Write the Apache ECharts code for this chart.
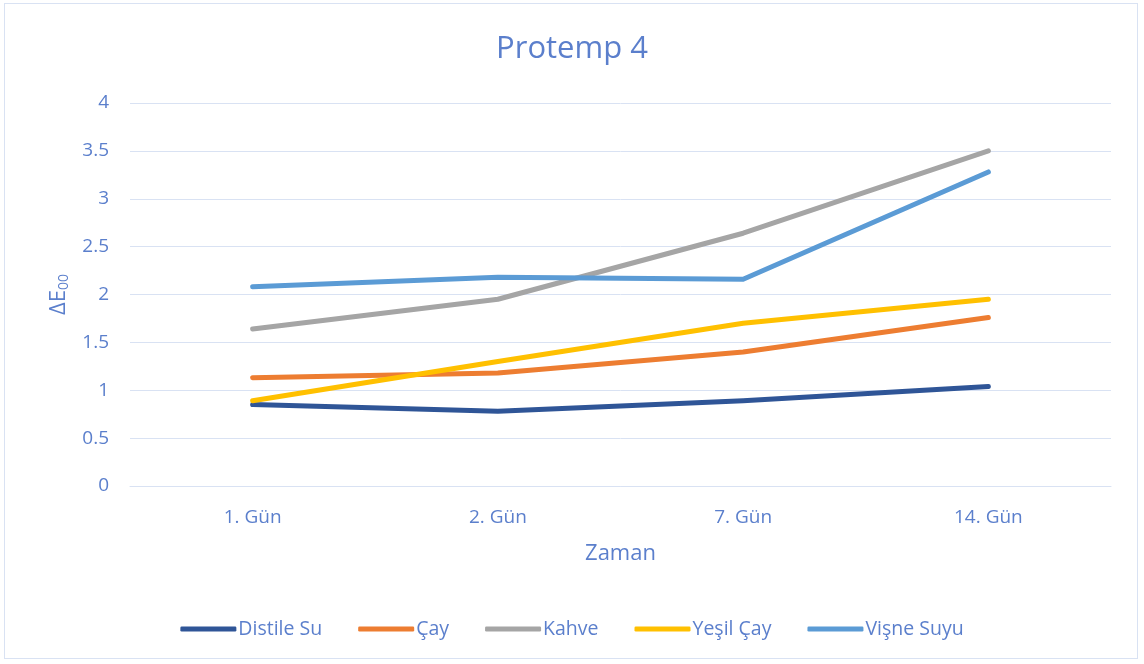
<!DOCTYPE html>
<html>
<head>
<meta charset="utf-8">
<script src="https://cdn.jsdelivr.net/npm/echarts@6/dist/echarts.min.js"></script>
<style>
html,body{margin:0;padding:0;background:#fff;}
#frame{position:absolute;left:4px;top:3px;width:1134px;height:656px;border:1px solid #D9E2F3;box-sizing:border-box;}
#chart{position:absolute;left:0;top:0;width:1144px;height:664px;}
</style>
</head>
<body>
<div id="frame"></div>
<div id="chart"></div>
<script>
const categories = ['1. Gün', '2. Gün', '7. Gün', '14. Gün'];
const distileSu = [0.85, 0.78, 0.89, 1.04];
const cay = [1.13, 1.18, 1.40, 1.76];
const kahve = [1.64, 1.95, 2.64, 3.50];
const yesilCay = [0.89, 1.30, 1.70, 1.95];
const visneSuyu = [2.08, 2.18, 2.16, 3.28];
const seriesNames = ['Distile Su', 'Çay', 'Kahve', 'Yeşil Çay', 'Vişne Suyu'];
const colors = ['#2F5597', '#ED7D31', '#A5A5A5', '#FFC000', '#5B9BD5'];

const textColor = '#5B7FCC';
const font = 'Open Sans';
const dataSets = [distileSu, cay, kahve, yesilCay, visneSuyu];

const chart = echarts.init(document.getElementById('chart'));
chart.setOption({
  animation: false,
  textStyle: {fontFamily: font},
  title: {
    text: 'Protemp 4', left: 'center', top: 29,
    textStyle: {color: textColor, fontSize: 31, fontWeight: 'normal', fontFamily: font}
  },
  legend: {
    bottom: 20, left: 'center',
    data: seriesNames,
    icon: 'roundRect',
    itemWidth: 56, itemHeight: 5, itemGap: 36,
    textStyle: {color: textColor, fontSize: 19.5, fontFamily: font, padding: [0, 0, 0, -3]}
  },
  grid: {left: 130, right: 33, top: 103, bottom: 178},
  xAxis: {
    type: 'category', data: categories, boundaryGap: true,
    name: 'Zaman', nameLocation: 'middle', nameGap: 57,
    nameTextStyle: {color: textColor, fontSize: 22, fontFamily: font},
    axisLine: {lineStyle: {color: '#D9E2F3', width: 1}},
    axisTick: {show: false},
    axisLabel: {color: textColor, fontSize: 19, margin: 22, fontFamily: font}
  },
  yAxis: {
    type: 'value', min: 0, max: 4, interval: 0.5,
    name: 'ΔE{sub|00}', nameLocation: 'middle', nameGap: 58, nameRotate: 90,
    nameTextStyle: {color: textColor, fontSize: 22, fontFamily: font,
      rich: {sub: {fontSize: 14, color: textColor, padding: [12, 0, 0, 0], fontFamily: font}}},
    axisLine: {show: false},
    axisTick: {show: false},
    splitLine: {lineStyle: {color: '#D9E2F3', width: 1}},
    axisLabel: {color: textColor, fontSize: 19, margin: 21, fontFamily: font}
  },
  series: seriesNames.map((n, i) => ({
    name: n, type: 'line', data: dataSets[i],
    symbol: 'none', smooth: false,
    lineStyle: {width: 5, color: colors[i], cap: 'round', join: 'round'},
    itemStyle: {color: colors[i]}
  }))
});
</script>
</body>
</html>
